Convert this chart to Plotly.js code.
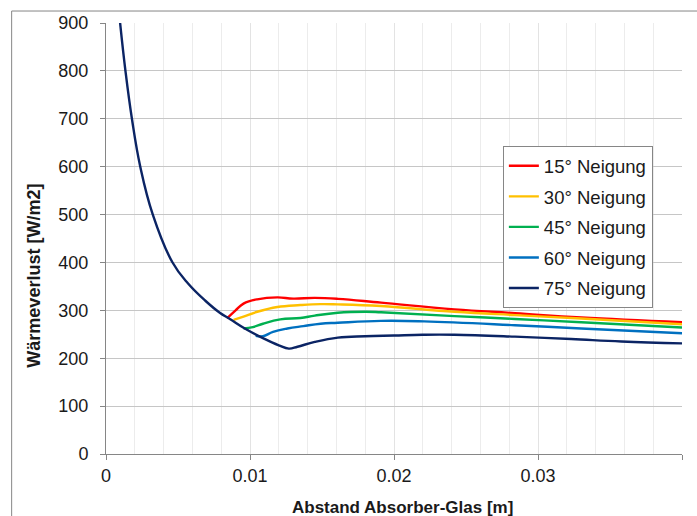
<!DOCTYPE html>
<html>
<head>
<meta charset="utf-8">
<script src="https://cdn.plot.ly/plotly-3.0.1.min.js"></script>
<style>
  html, body { margin: 0; padding: 0; background: #ffffff; }
  #chart { width: 697px; height: 516px; }
</style>
</head>
<body>
<div id="chart"></div>
<script>
// ---- data ----
const seriesNames = ["15° Neigung", "30° Neigung", "45° Neigung", "60° Neigung", "75° Neigung"];

const x15 = [0.0084, 0.0090, 0.00955, 0.0105, 0.0119, 0.0130, 0.0145, 0.0161, 0.0191, 0.0242, 0.0284, 0.0330, 0.0400];
const y15 = [283, 300, 314, 323, 327, 324.5, 326, 324, 316, 302, 294, 285, 275];

const x30 = [0.00886, 0.00955, 0.0105, 0.0119, 0.0135, 0.0149, 0.0161, 0.0191, 0.0242, 0.0284, 0.0330, 0.0400];
const y30 = [280, 287, 297, 307, 311, 313, 312.5, 309, 297, 290, 283, 271];

const x45 = [0.00955, 0.0102, 0.0109, 0.0121, 0.0135, 0.0145, 0.0161, 0.0180, 0.0191, 0.0242, 0.0284, 0.0330, 0.0400];
const y45 = [262, 265, 272, 281, 284, 289, 295, 297, 296, 288, 282, 275, 264];

const x60 = [0.0104, 0.0109, 0.0116, 0.0126, 0.0137, 0.0149, 0.0161, 0.0191, 0.0221, 0.0284, 0.0330, 0.0400];
const y60 = [247, 246, 255, 262, 267, 272, 274, 278, 277, 269, 262, 252];

const x75 = [0.00098, 0.00135, 0.0018, 0.00238, 0.00325, 0.0046, 0.0057, 0.0069, 0.0079, 0.0086,
             0.0097, 0.0109, 0.0120, 0.0127, 0.0133, 0.0145, 0.0161, 0.0180, 0.0200, 0.0220, 0.0242,
             0.0284, 0.0323, 0.0358, 0.0400];
const y75 = [900, 800, 700, 600, 500, 401, 356, 320, 295, 282,
             261, 242, 227, 220, 224, 234, 243, 246, 247.5, 249, 249,
             245, 240, 235, 231];

const xTickVals = [0, 0.01, 0.02, 0.03, 0.04];
const xTickText = ["0", "0.01", "0.02", "0.03", "0.04"];
const yTickVals = [0, 100, 200, 300, 400, 500, 600, 700, 800, 900];

const colors = ["#FF0000", "#FFC000", "#00B050", "#0070C0", "#0B2464"];
const xs = [x15, x30, x45, x60, x75];
const ys = [y15, y30, y45, y60, y75];

const traces = seriesNames.map((name, i) => ({
  type: "scatter",
  mode: "lines",
  name: name,
  legendgroup: "g" + i,
  x: xs[i],
  y: ys[i],
  line: { color: colors[i], width: 2.4, shape: "spline", smoothing: 1.2 },
  hoverinfo: "skip"
}));

const FONT = "Liberation Sans, Arial, sans-serif";

const layout = {
  width: 697,
  height: 516,
  margin: { l: 105.5, r: 14.5, t: 23, b: 62 },
  paper_bgcolor: "#ffffff",
  plot_bgcolor: "#ffffff",
  font: { family: FONT, size: 18, color: "#1a1a1a" },
  showlegend: true,
  xaxis: {
    range: [0, 0.04],
    tickvals: xTickVals,
    ticktext: xTickText,
    ticks: "outside",
    ticklen: 5,
    tickcolor: "#868686",
    showline: true,
    linecolor: "#868686",
    linewidth: 1,
    showgrid: true,
    gridcolor: "#e3e3e3",
    zeroline: false,
    tickfont: { family: FONT, size: 18, color: "#1a1a1a" },
    minor: { dtick: 0.002, showgrid: true, gridcolor: "#ececec", gridwidth: 1 }
  },
  yaxis: {
    range: [0, 900],
    tickvals: yTickVals,
    ticks: "outside",
    ticklen: 5,
    tickcolor: "#868686",
    showline: true,
    linecolor: "#868686",
    linewidth: 1,
    showgrid: true,
    gridcolor: "#c6c6c6",
    zeroline: false,
    ticklabelstandoff: 8,
    tickfont: { family: FONT, size: 18, color: "#1a1a1a" }
  },
  legend: {
    x: 0.689,
    y: 0.714,
    xanchor: "left",
    yanchor: "top",
    bgcolor: "#ffffff",
    bordercolor: "#868686",
    borderwidth: 1,
    font: { family: FONT, size: 18.5, color: "#1a1a1a" },
    traceorder: "grouped",
    tracegroupgap: 3.5
  },
  annotations: [
    {
      text: "<b>Abstand Absorber-Glas [m]</b>",
      xref: "paper", yref: "paper",
      x: 0.514, y: -0.123,
      xanchor: "center", yanchor: "middle",
      showarrow: false,
      font: { family: FONT, size: 17, color: "#1a1a1a" }
    },
    {
      text: "<b>Wärmeverlust [W/m2]</b>",
      xref: "paper", yref: "paper",
      x: -0.1256, y: 0.413,
      xanchor: "center", yanchor: "middle",
      textangle: -90,
      showarrow: false,
      font: { family: FONT, size: 18, color: "#1a1a1a" }
    }
  ],
  shapes: [
    { type: "line", xref: "paper", yref: "paper", x0: -0.1638, x1: -0.1638, y0: 1.0278, y1: -0.3,
      line: { color: "#868686", width: 1 } },
    { type: "line", xref: "paper", yref: "paper", x0: -0.1638, x1: 1.2, y0: 1.0278, y1: 1.0278,
      line: { color: "#868686", width: 1 } }
  ]
};

Plotly.newPlot("chart", traces, layout, { staticPlot: true, displayModeBar: false });
</script>
</body>
</html>
